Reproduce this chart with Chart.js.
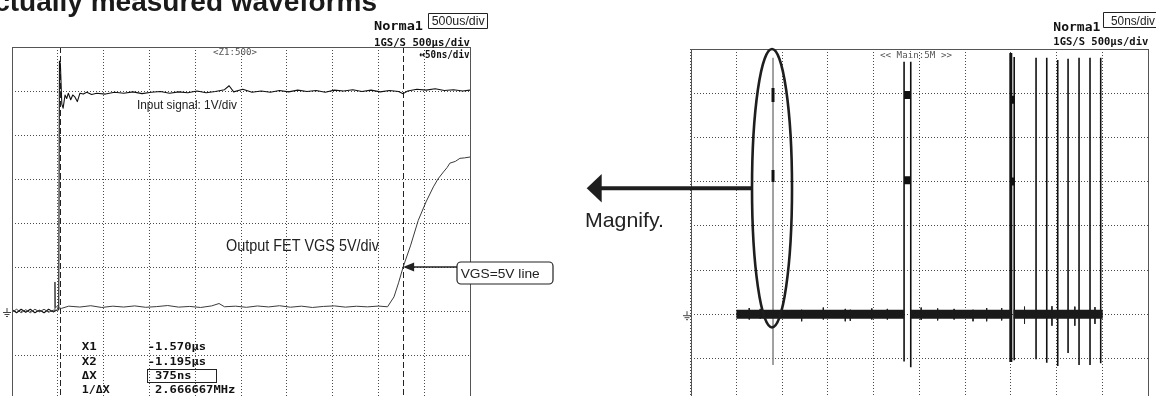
<!DOCTYPE html>
<html>
<head>
<meta charset="utf-8">
<script src="https://cdn.jsdelivr.net/npm/chart.js@4.4.1/dist/chart.umd.min.js"></script>
<style>
  html, body { margin:0; padding:0; background:#fff; overflow:hidden; }
  #fig { position:relative; width:1156px; height:396px; overflow:hidden; background:#fff; }
  #fig canvas { position:absolute; top:0; }
  #zoomScope { left:0; }
  #mainScope { left:560px; }
</style>
</head>
<body>
<div id="fig">
  <canvas id="zoomScope" width="560" height="420"></canvas>
  <canvas id="mainScope" width="596" height="420"></canvas>
</div>
<script>
// ---------- zoomed view: 50 ns/div ----------
const zoomGridTimes = [-1622, -1572, -1522, -1472, -1422, -1372, -1322, -1272, -1222, -1172, -1122]; // ns
const divLevels = [-2, -1, 0, 1, 2, 3, 4, 5, 6];

// CH1 input signal, 1 V/div
const inputTimes = [
  -1622, -1617, -1612, -1607, -1602, -1597, -1592, -1587, -1582, -1577, -1573, -1571,
  -1570.2, -1569.2, -1567.6, -1566.2, -1564.1, -1562.3, -1560.5, -1557.9, -1555.7, -1553.2,
  -1550.7, -1547.8, -1544.2, -1540.4, -1535.0, -1529.5,
  -1520, -1510, -1500, -1490, -1480, -1470, -1460, -1450, -1440, -1430, -1420, -1410,
  -1400, -1390, -1385, -1380, -1370, -1360, -1350, -1340, -1330, -1320, -1310, -1300,
  -1290, -1280, -1270, -1260, -1250, -1240, -1230, -1220, -1210, -1200, -1195, -1190,
  -1180, -1170, -1160, -1150, -1140, -1130, -1122
];
const inputVolts = [
  0.03, -0.04, 0.04, -0.03, 0.04, -0.04, 0.02, -0.04, 0.04, -0.02, 0.02, 0.03,
  5.68, 5.62, 4.70, 4.61, 4.91, 4.83, 4.95, 4.80, 4.91, 4.86,
  4.76, 4.95, 4.93, 4.97, 4.92, 4.95,
  4.93, 4.97, 4.95, 4.98, 4.94, 4.97, 4.99, 4.95, 4.98, 4.96, 5.00, 4.96,
  4.99, 5.03, 5.12, 4.98, 5.04, 4.97, 5.00, 4.97, 5.01, 4.98, 5.02, 4.99,
  5.01, 4.97, 5.02, 5.00, 5.03, 4.99, 5.02, 4.98, 5.01, 4.99, 4.94, 5.00,
  5.04, 5.02, 5.05, 5.01, 5.03, 5.00, 5.02
];

// CH2 output FET gate-source voltage, 5 V/div
const vgsTimes = [
  -1622, -1617, -1612, -1607, -1602, -1597, -1592, -1587, -1582, -1577, -1575.4, -1575.1,
  -1574.8, -1573, -1571, -1568, -1560, -1548, -1536, -1524, -1512, -1500, -1488, -1476,
  -1464, -1452, -1440, -1428, -1416, -1404, -1396, -1390, -1378, -1366, -1354, -1342,
  -1330, -1318, -1306, -1294, -1282, -1270, -1258, -1246, -1234, -1222, -1212,
  -1205, -1200, -1195, -1187, -1178.5, -1170, -1162, -1157, -1151, -1147, -1144,
  -1138, -1133, -1128, -1122
];
const vgsVolts = [
  -0.15, 0.2, -0.2, 0.15, -0.2, 0.2, -0.1, 0.2, -0.15, 0.1, 0.0, 3.3,
  0.4, 0.5, 0.35, 0.30, 0.55, 0.45, 0.60, 0.40, 0.55, 0.45, 0.58, 0.42,
  0.50, 0.62, 0.44, 0.52, 0.40, 0.58, 0.85, 0.48, 0.55, 0.42, 0.57, 0.46,
  0.60, 0.43, 0.55, 0.40, 0.52, 0.58, 0.44, 0.54, 0.47, 0.56, 0.48,
  1.6, 3.2, 5.0, 7.4, 10.3, 12.4, 14.1, 15.0, 15.8, 16.3, 16.8,
  17.0, 17.35, 17.4, 17.5
];

const cursorTimes = [-1570, -1195]; // X1, X2 in ns
const vgsMarkVolts = 5;              // "VGS=5V line"

// ---------- main view: 500 us/div ----------
const mainGridTimes = [0, 500, 1000, 1500, 2000, 2500, 3000, 3500, 4000, 4500, 5000]; // us
const bandStarts = [500, 2406, 3530];
const bandEnds   = [2333, 3505, 4505];
const pulseTimes   = [2333, 2406, 3537, 3776, 3893, 4013, 4126, 4246, 4366, 4483];
const pulseTops    = [5.71, 5.71, 5.82, 5.80, 5.80, 5.75, 5.78, 5.80, 5.80, 5.80];
const pulseBottoms = [-1.07, -1.20, -1.04, -1.02, -1.10, -1.17, -0.88, -1.15, -1.15, -1.11];
const heavyPulseTime = 3500, heavyPulseTop = 5.91, heavyPulseBottom = -1.08;
const glitchTime = 900, glitchTop = 5.80, glitchBottom = -1.15;
const glitchMarkTops    = [5.12, 3.26];
const glitchMarkBottoms = [4.80, 2.99];
const blockStarts = [2333, 2333, 3494, 3494];
const blockEnds   = [2406, 2406, 3541, 3541];
const blockLevels = [4.96, 3.03, 4.85, 3.00];
// small noise excursions on the baseline
const noiseTimes   = [640, 760, 1213, 1450, 1690, 1745, 1980, 2150, 2520, 2700, 2880, 3087, 3236, 3400, 3650, 3950, 4200, 4420];
const noiseTops    = [0.14, 0.12, 0.10, 0.15, 0.12, 0.10, 0.13, 0.12, 0.15, 0.13, 0.12, 0.10, 0.14, 0.14, 0.17, 0.18, 0.17, 0.16];
const noiseBottoms = [-0.12, -0.10, -0.16, -0.12, -0.16, -0.15, -0.12, -0.12, -0.13, -0.14, -0.12, -0.16, -0.16, -0.14, -0.22, -0.26, -0.26, -0.22];

// ---------- helpers ----------
const MONO = '"DejaVu Sans Mono", monospace';
const SANS = '"Liberation Sans", Arial, sans-serif';

function pts(xs, ys) { return xs.map((x, i) => ({ x, y: ys[i] })); }

function verticals(times, tops, bottoms) {
  const out = [];
  times.forEach((t, i) => { out.push({ x: t, y: tops[i] }, { x: t, y: bottoms[i] }, { x: t, y: null }); });
  return out;
}
function horizontals(starts, ends, levels) {
  const out = [];
  starts.forEach((s, i) => { out.push({ x: s, y: levels[i] }, { x: ends[i], y: levels[i] }, { x: ends[i], y: null }); });
  return out;
}

// draws text squeezed/stretched to an exact width
function fitText(ctx, str, left, baseline, font, width, color) {
  ctx.save();
  ctx.font = font;
  ctx.fillStyle = color || '#111';
  ctx.textAlign = 'left';
  ctx.textBaseline = 'alphabetic';
  const w = ctx.measureText(str).width;
  ctx.translate(left, baseline);
  ctx.scale(width / w, 1);
  ctx.fillText(str, 0, 0);
  ctx.restore();
}

function frame(ctx, area) {
  ctx.save();
  ctx.strokeStyle = '#555';
  ctx.lineWidth = 1;
  ctx.strokeRect(Math.round(area.left) + 0.5, Math.round(area.top) + 0.5,
                 Math.round(area.right - area.left), Math.round(area.bottom - area.top));
  ctx.restore();
}

function ground(ctx, x, y) {
  ctx.save();
  ctx.strokeStyle = '#444';
  ctx.lineWidth = 1;
  ctx.beginPath();
  ctx.moveTo(x + 4, y - 3); ctx.lineTo(x + 4, y + 1);
  ctx.moveTo(x, y + 1.5); ctx.lineTo(x + 8, y + 1.5);
  ctx.moveTo(x + 1.5, y + 3.5); ctx.lineTo(x + 6.5, y + 3.5);
  ctx.moveTo(x + 3, y + 5.5); ctx.lineTo(x + 5, y + 5.5);
  ctx.stroke();
  ctx.restore();
}

function boxed(ctx, x, y, w, h, r) {
  ctx.beginPath();
  if (r) { ctx.roundRect(x, y, w, h, r); } else { ctx.rect(x, y, w, h); }
  ctx.fillStyle = '#fff';
  ctx.fill();
  ctx.stroke();
}

function gridScale(min, max, ticks) {
  return {
    type: 'linear', min, max,
    afterBuildTicks: s => { s.ticks = ticks.map(v => ({ value: v })); },
    ticks: { display: false },
    grid: { color: '#4a4a4a', lineWidth: 1, drawTicks: false },
    border: { display: false, dash: [1, 2] }
  };
}

const common = {
  responsive: false,
  animation: false,
  devicePixelRatio: 1,
  events: [],
  plugins: { legend: { display: false }, tooltip: { enabled: false } }
};
const line = { showLine: true, pointRadius: 0, tension: 0, spanGaps: false, borderCapStyle: 'butt' };

// ---------- zoomed scope ----------
const zoomDecor = {
  id: 'zoomDecor',
  beforeDatasetsDraw(chart) {
    const { ctx, chartArea: a } = chart;
    const xs = chart.scales.x;
    ctx.save();
    ctx.strokeStyle = '#222';
    ctx.lineWidth = 1;
    ctx.setLineDash([6, 3]);
    cursorTimes.forEach(t => {
      const px = Math.round(xs.getPixelForValue(t)) + 0.5;
      ctx.beginPath(); ctx.moveTo(px, a.top); ctx.lineTo(px, a.bottom); ctx.stroke();
    });
    ctx.restore();
  },
  afterDraw(chart) {
    const { ctx, chartArea: a } = chart;
    const xs = chart.scales.x, y1 = chart.scales.y1, y2 = chart.scales.y2;
    frame(ctx, a);

    // heading
    ctx.save();
    ctx.font = 'bold 28px ' + SANS;
    ctx.fillStyle = '#1a1a1a';
    ctx.fillText('Actually measured waveforms', -26, 11);
    ctx.restore();

    // scope status
    fitText(ctx, 'Norma1', 374, 29.5, 'bold 12px ' + MONO, 49);
    fitText(ctx, '1GS/S 500\u03bcs/div', 374, 45.7, 'bold 11px ' + MONO, 96);
    fitText(ctx, '\u219450ns/div', 419.5, 57.5, 'bold 11px ' + MONO, 50);
    fitText(ctx, '<Z1:500>', 213, 55, '9px ' + MONO, 44, '#555');
    ctx.save(); ctx.strokeStyle = '#222'; ctx.lineWidth = 1;
    boxed(ctx, 428.5, 13.5, 59, 15); ctx.restore();
    fitText(ctx, '500us/div', 431.7, 25.3, '12px ' + SANS, 53, '#222');

    // channel labels
    fitText(ctx, 'Input signal: 1V/div', 137, 108.5, '12px ' + SANS, 100, '#222');
    fitText(ctx, 'Output FET VGS 5V/div', 226, 251, '16px ' + SANS, 153, '#222');

    // VGS callout
    const tipX = xs.getPixelForValue(cursorTimes[1]);
    const tipY = y2.getPixelForValue(vgsMarkVolts);
    ctx.save();
    ctx.strokeStyle = '#222'; ctx.fillStyle = '#222'; ctx.lineWidth = 1.6;
    ctx.beginPath(); ctx.moveTo(457, tipY); ctx.lineTo(tipX + 10, tipY); ctx.stroke();
    ctx.beginPath(); ctx.moveTo(tipX, tipY); ctx.lineTo(tipX + 11, tipY - 4.5); ctx.lineTo(tipX + 11, tipY + 4.5); ctx.closePath(); ctx.fill();
    ctx.lineWidth = 1.2;
    boxed(ctx, 457, 262, 96, 22, 4);
    ctx.restore();
    fitText(ctx, 'VGS=' + vgsMarkVolts + 'V line', 460.7, 277.7, '13px ' + SANS, 79, '#222');

    ground(ctx, 3, y1.getPixelForValue(0));

    // cursor readout
    const dx = cursorTimes[1] - cursorTimes[0];
    const rows = [
      ['X1', (cursorTimes[0] / 1000).toFixed(3) + '\u03bcs', 350],
      ['X2', (cursorTimes[1] / 1000).toFixed(3) + '\u03bcs', 364.5],
      ['\u0394X', dx + 'ns', 379],
      ['1/\u0394X', (1000 / dx).toFixed(6) + 'MHz', 393]
    ];
    const f = 'bold 11px ' + MONO;
    rows.forEach(([k, v, b]) => {
      fitText(ctx, k, 81.7, b, f, k.length > 2 ? 28 : 15);
      const neg = v.startsWith('-');
      const w = neg ? 58.3 : v.length * 7.3;
      fitText(ctx, v, neg ? 147.7 : 155, b, f, w);
    });
    ctx.save(); ctx.strokeStyle = '#222'; ctx.lineWidth = 1;
    ctx.strokeRect(147.5, 369.5, 69, 13); ctx.restore();
  }
};

new Chart(document.getElementById('zoomScope'), {
  type: 'scatter',
  data: {
    datasets: [
      { ...line, data: pts(vgsTimes, vgsVolts), yAxisID: 'y2', borderColor: '#3a3a3a', borderWidth: 1, borderJoinStyle: 'round' },
      { ...line, data: pts(inputTimes, inputVolts), yAxisID: 'y1', borderColor: '#111', borderWidth: 1.1, borderJoinStyle: 'round' }
    ]
  },
  options: {
    ...common,
    layout: { padding: { left: 12, right: 90, top: 47, bottom: 21 } },
    scales: {
      x: gridScale(zoomGridTimes[0], zoomGridTimes[zoomGridTimes.length - 1], zoomGridTimes),
      y1: { ...gridScale(-2, 6, divLevels), position: 'left' },
      y2: { type: 'linear', min: -10, max: 30, display: false }
    }
  },
  plugins: [zoomDecor]
});

// ---------- main scope ----------
const mainDecor = {
  id: 'mainDecor',
  afterDraw(chart) {
    const { ctx, chartArea: a } = chart;
    const xs = chart.scales.x, ys = chart.scales.y;
    frame(ctx, a);

    fitText(ctx, 'Norma1', 493.3, 30.7, 'bold 12px ' + MONO, 47);
    fitText(ctx, '1GS/S 500\u03bcs/div', 493.3, 45, 'bold 11px ' + MONO, 95);
    fitText(ctx, '<< Main:5M >>', 320, 58, '9px ' + MONO, 72, '#555');
    ctx.save(); ctx.strokeStyle = '#222'; ctx.lineWidth = 1;
    boxed(ctx, 543.5, 12.5, 60, 15); ctx.restore();
    fitText(ctx, '50ns/div', 551, 25, '12px ' + SANS, 44, '#222');

    ground(ctx, 123, ys.getPixelForValue(0));

    // magnified region marker
    const cx = xs.getPixelForValue(glitchTime) - 1;
    const top = ys.getPixelForValue(6.0), bot = ys.getPixelForValue(-0.30);
    const cy = (top + bot) / 2;
    ctx.save();
    ctx.strokeStyle = '#1e1e1e'; ctx.fillStyle = '#1e1e1e'; ctx.lineWidth = 2.6;
    ctx.beginPath(); ctx.ellipse(cx, cy, 20, (bot - top) / 2, 0, 0, Math.PI * 2); ctx.stroke();
    ctx.lineWidth = 4;
    ctx.beginPath(); ctx.moveTo(cx - 20, cy); ctx.lineTo(40, cy); ctx.stroke();
    ctx.beginPath(); ctx.moveTo(26.7, cy); ctx.lineTo(41.7, cy - 14.3); ctx.lineTo(41.7, cy + 14.3); ctx.closePath(); ctx.fill();
    ctx.restore();
    fitText(ctx, 'Magnify.', 25, 227.3, '21px ' + SANS, 79, '#222');
  }
};

const bandData = [];
bandStarts.forEach((s, i) => bandData.push({ x: s, y: 0 }, { x: bandEnds[i], y: 0 }, { x: bandEnds[i], y: null }));

// drawing order is set explicitly: higher order values are painted first
new Chart(document.getElementById('mainScope'), {
  type: 'scatter',
  data: {
    datasets: [
      { ...line, order: 7, data: horizontals(blockStarts, blockEnds, blockLevels), borderColor: '#111', borderWidth: 8 },
      { ...line, order: 6, data: verticals([glitchTime], [glitchTop], [glitchBottom]), borderColor: '#8a8a8a', borderWidth: 1.6 },
      { ...line, order: 5, data: verticals(pulseTimes, pulseTops, pulseBottoms), borderColor: '#111', borderWidth: 1.6 },
      { ...line, order: 4, data: verticals([heavyPulseTime], [heavyPulseTop], [heavyPulseBottom]), borderColor: '#111', borderWidth: 3 },
      { ...line, order: 3, data: verticals(noiseTimes, noiseTops, noiseBottoms), borderColor: '#222', borderWidth: 1 },
      { ...line, order: 2, data: bandData, borderColor: '#1a1a1a', borderWidth: 9 },
      { ...line, order: 1, data: verticals([glitchTime, glitchTime], glitchMarkTops, glitchMarkBottoms), borderColor: '#111', borderWidth: 3 }
    ]
  },
  options: {
    ...common,
    layout: { padding: { left: 130.7, right: 8, top: 49, bottom: 17.4 } },
    scales: {
      x: gridScale(mainGridTimes[0], mainGridTimes[mainGridTimes.length - 1], mainGridTimes),
      y: gridScale(-2, 6, divLevels)
    }
  },
  plugins: [mainDecor]
});
</script>
</body>
</html>
